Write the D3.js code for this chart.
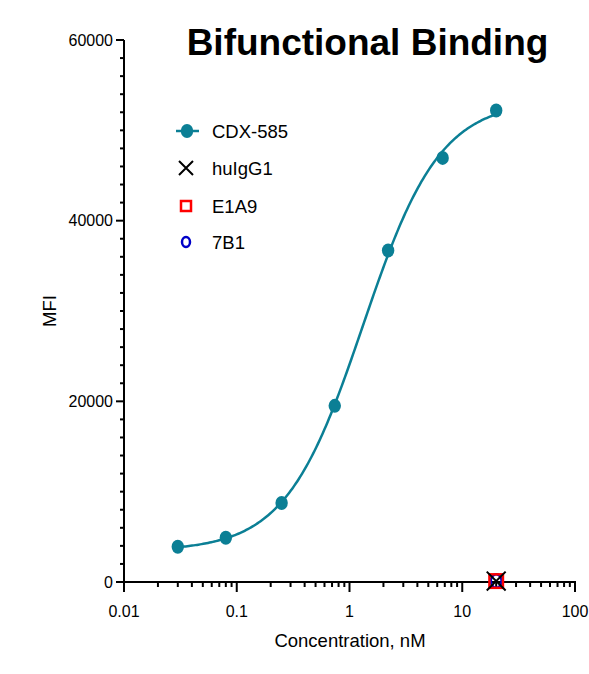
<!DOCTYPE html>
<html>
<head>
<meta charset="utf-8">
<script src="https://cdn.jsdelivr.net/npm/d3@7"></script>
<style>
  body { margin: 0; background: #fff; }
  text { font-family: "Liberation Sans", Arial, sans-serif; }
</style>
</head>
<body>
<svg id="chart" width="589" height="674"></svg>
<script>
// CDX-585 dilution series
const conc = [0.03, 0.08, 0.25, 0.74, 2.2, 6.7, 20];
const mfi = [3900, 4900, 8750, 19500, 36700, 46950, 52200];

// negative controls, single point each
const controls = ['huIgG1', 'E1A9', '7B1'];
const controlConc = [20, 20, 20];
const controlMfi = [100, 100, 100];

const xTicks = [0.01, 0.1, 1, 10, 100];
const yTicks = [0, 20000, 40000, 60000];

const teal = '#0b7f95';

const svg = d3.select('#chart');

const x = d3.scaleLog().domain([0.01, 100]).range([124, 575]);
const y = d3.scaleLinear().domain([0, 60000]).range([582, 40]);

// 4PL fit, simple nelder-mead
function fourPL(p, c) {
  return p[0] + (p[1] - p[0]) / (1 + Math.pow(10, (p[2] - Math.log10(c)) * p[3]));
}
function sse(p) {
  return d3.sum(conc, (c, i) => (fourPL(p, c) - mfi[i]) ** 2);
}
function nelderMead(f, start) {
  const n = start.length;
  let pts = [start.slice()];
  for (let i = 0; i < n; i++) {
    const p = start.slice();
    p[i] = p[i] !== 0 ? p[i] * 1.1 : 0.1;
    pts.push(p);
  }
  for (let it = 0; it < 4000; it++) {
    pts.sort((a, b) => f(a) - f(b));
    const cen = d3.range(n).map(j => d3.mean(pts.slice(0, n), p => p[j]));
    const worst = pts[n];
    const refl = cen.map((c, j) => c + (c - worst[j]));
    if (f(refl) < f(pts[0])) {
      const exp = cen.map((c, j) => c + 2 * (c - worst[j]));
      pts[n] = f(exp) < f(refl) ? exp : refl;
    } else if (f(refl) < f(pts[n - 1])) {
      pts[n] = refl;
    } else {
      const con = cen.map((c, j) => c + 0.5 * (worst[j] - c));
      if (f(con) < f(worst)) pts[n] = con;
      else pts = pts.map(p => p.map((v, j) => pts[0][j] + 0.5 * (v - pts[0][j])));
    }
  }
  pts.sort((a, b) => f(a) - f(b));
  return pts[0];
}
const fit = nelderMead(sse, [3500, 55000, 0.15, 1.2]);

// axes
const yAxis = svg.append('g');
yAxis.append('line')
  .attr('x1', 124).attr('x2', 124).attr('y1', y(60000)).attr('y2', 592)
  .attr('stroke', '#000').attr('stroke-width', 2);
yAxis.selectAll('.minor')
  .data(d3.range(0, 60001, 2000).filter(v => v % 20000 !== 0))
  .enter().append('line')
  .attr('x1', 120).attr('x2', 124)
  .attr('y1', d => y(d)).attr('y2', d => y(d))
  .attr('stroke', '#000').attr('stroke-width', 2);
yAxis.selectAll('.major')
  .data(yTicks)
  .enter().append('line')
  .attr('x1', 116).attr('x2', 124)
  .attr('y1', d => y(d)).attr('y2', d => y(d))
  .attr('stroke', '#000').attr('stroke-width', 2);
yAxis.selectAll('text')
  .data(yTicks)
  .enter().append('text')
  .attr('x', 113).attr('y', d => y(d))
  .attr('dy', '0.36em')
  .attr('text-anchor', 'end')
  .attr('font-size', 16)
  .text(d => d);

const xAxis = svg.append('g');
xAxis.append('line')
  .attr('x1', 116).attr('x2', 576).attr('y1', 582).attr('y2', 582)
  .attr('stroke', '#000').attr('stroke-width', 2);
const minorX = [];
[0.01, 0.1, 1, 10].forEach(d => { for (let k = 2; k <= 9; k++) minorX.push(d * k); });
xAxis.selectAll('.minor')
  .data(minorX)
  .enter().append('line')
  .attr('x1', d => x(d)).attr('x2', d => x(d))
  .attr('y1', 582).attr('y2', 587)
  .attr('stroke', '#000').attr('stroke-width', 2);
xAxis.selectAll('.major')
  .data(xTicks)
  .enter().append('line')
  .attr('x1', d => x(d)).attr('x2', d => x(d))
  .attr('y1', 582).attr('y2', 592)
  .attr('stroke', '#000').attr('stroke-width', 2);
xAxis.selectAll('text')
  .data(xTicks)
  .enter().append('text')
  .attr('x', d => x(d)).attr('y', 617)
  .attr('text-anchor', 'middle')
  .attr('font-size', 16)
  .text(d => d);

// axis titles
svg.append('text')
  .attr('x', 350).attr('y', 647)
  .attr('text-anchor', 'middle')
  .attr('font-size', 18.5)
  .text('Concentration, nM');
svg.append('text')
  .attr('transform', 'translate(56,311) rotate(-90)')
  .attr('text-anchor', 'middle')
  .attr('font-size', 18.5)
  .text('MFI');

svg.append('text')
  .attr('x', 367.5).attr('y', 55)
  .attr('text-anchor', 'middle')
  .attr('font-size', 37)
  .attr('font-weight', 'bold')
  .text('Bifunctional Binding');

// fitted curve
const logs = d3.range(0, 201).map(i => Math.log10(conc[0]) + i / 200 * (Math.log10(conc[conc.length - 1]) - Math.log10(conc[0])));
const line = d3.line()
  .x(d => x(Math.pow(10, d)))
  .y(d => y(fourPL(fit, Math.pow(10, d))));
svg.append('path')
  .attr('d', line(logs))
  .attr('fill', 'none')
  .attr('stroke', teal)
  .attr('stroke-width', 2.5);

svg.append('g')
  .selectAll('ellipse')
  .data(conc)
  .enter().append('ellipse')
  .attr('cx', d => x(d))
  .attr('cy', (d, i) => y(mfi[i]))
  .attr('rx', 6.2).attr('ry', 7)
  .attr('fill', teal);

// control markers
function drawMarker(g, name, cx, cy, s) {
  if (name === 'huIgG1') {
    const h = 7 * s;
    g.append('path')
      .attr('d', `M${cx - h},${cy - h}L${cx + h},${cy + h}M${cx - h},${cy + h}L${cx + h},${cy - h}`)
      .attr('stroke', '#000').attr('stroke-width', 2).attr('fill', 'none');
  } else if (name === 'E1A9') {
    const h = 5 * s;
    g.append('rect')
      .attr('x', cx - h).attr('y', cy - h).attr('width', 2 * h).attr('height', 2 * h)
      .attr('fill', 'none').attr('stroke', '#f00').attr('stroke-width', 2.5);
  } else {
    g.append('ellipse')
      .attr('cx', cx).attr('cy', cy).attr('rx', 4 * s).attr('ry', 5 * s)
      .attr('fill', 'none').attr('stroke', '#0000c8').attr('stroke-width', 2.5);
  }
}
const ctrl = svg.append('g');
controls.slice().reverse().forEach(name => {
  const i = controls.indexOf(name);
  drawMarker(ctrl, name, x(controlConc[i]), y(controlMfi[i]), 1.35);
});

// legend
const legend = svg.append('g');
const legendNames = ['CDX-585'].concat(controls);
const rowY = [131, 168, 206, 242];
legend.append('line')
  .attr('x1', 176).attr('x2', 199).attr('y1', rowY[0]).attr('y2', rowY[0])
  .attr('stroke', teal).attr('stroke-width', 2.5);
legend.append('ellipse')
  .attr('cx', 187).attr('cy', rowY[0]).attr('rx', 6.2).attr('ry', 7)
  .attr('fill', teal);
controls.forEach((name, i) => drawMarker(legend, name, 186, rowY[i + 1], 1));
legend.selectAll('text')
  .data(legendNames)
  .enter().append('text')
  .attr('x', 212).attr('y', (d, i) => rowY[i])
  .attr('dy', '0.36em')
  .attr('font-size', 18.5)
  .text(d => d);
</script>
</body>
</html>
